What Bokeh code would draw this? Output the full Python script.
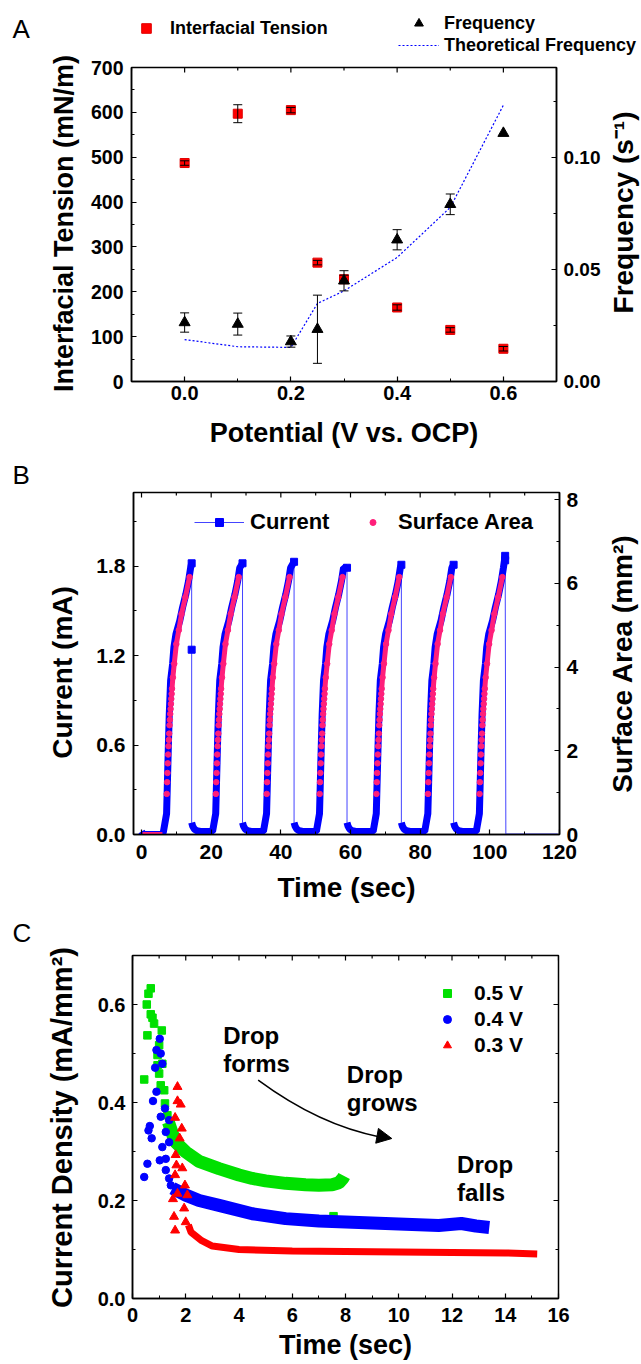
import math
from bokeh.plotting import figure
from bokeh.models import (Range1d, LinearAxis, SingleIntervalTicker, NumeralTickFormatter,
                          Legend, LegendItem, Label, Whisker, TeeHead, ColumnDataSource,
                          Arrow, NormalHead)
from bokeh.layouts import column, row
from bokeh.embed import file_html
from bokeh.resources import INLINE

FONT = "Liberation Sans"

# ---------------- Panel A data ----------------
potential = [0.0, 0.1, 0.2, 0.25, 0.3, 0.4, 0.5, 0.6]
tension = [487, 597, 605, 265, 228, 165, 115, 73]
tension_err = [5, 20, 6, 5, 9, 6, 5, 5]
frequency = [0.0263, 0.0256, 0.0178, 0.0233, 0.0449, 0.0632, 0.0790, 0.1107]
frequency_err = [0.0043, 0.0049, 0.0025, 0.0152, 0.0045, 0.0045, 0.0046, 0.0]
theory_frequency = [0.0187, 0.0155, 0.0152, 0.0348, 0.0404, 0.0553, 0.0776, 0.1232]

# ---------------- Panel B data ----------------
rise_times = [7.2, 21.3, 35.9, 51.1, 67.4, 82.2, 97.0]
fall_times = [14.4, 29.0, 43.8, 59.0, 74.6, 89.6, 104.4]
peak_current = [1.82, 1.82, 1.83, 1.79, 1.81, 1.81, 1.87]
rise_dt = [-0.9, 0.0, 0.5, 0.77, 1.16, 1.73, 2.1, 2.7, 3.8, 4.6, 5.55, 6.3, 6.9]
rise_current = [0.02, 0.14, 0.586, 0.81, 1.034, 1.145, 1.257, 1.346, 1.436, 1.525, 1.615, 1.70, 1.79]
decay_dt = [0.0, 0.3, 0.8, 1.5, 2.5, 4.0]
decay_current = [0.08, 0.055, 0.035, 0.025, 0.02, 0.02]
start_time = [0.0, 0.5, 6.0]
start_current = [0.02, 0.0, 0.0]
tail_time = [104.6, 119.5]
tail_current = [0.003, 0.003]
extra_time = [14.4, 104.4]
extra_current = [1.24, 1.84]
idle_area_time = [0.3, 6.0]
idle_area = [0.0, 0.0]
area_dt = [0.05, 0.15, 0.25, 0.35, 0.45, 0.55, 0.65, 0.75, 0.85, 0.95, 1.05, 1.15,
           1.25, 1.35, 1.45, 1.55, 1.8, 2.2, 2.8, 3.5, 4.3, 5.4, 6.6]
area_value = [0.97, 1.25, 1.47, 1.70, 1.91, 2.11, 2.26, 2.41, 2.61, 2.74, 2.88, 3.0,
              3.12, 3.24, 3.36, 3.48, 3.75, 4.08, 4.55, 4.88, 5.27, 5.67, 6.15]

# ---------------- Panel C data ----------------
v05_scatter_t = [0.44, 0.536, 0.56, 0.6, 0.686, 0.686, 0.75, 0.81, 0.94, 0.94, 1.0, 1.0,
                 1.06, 1.1, 1.12, 1.19, 1.22, 1.31, 7.55]
v05_scatter_j = [0.447, 0.600, 0.537, 0.622, 0.633, 0.580, 0.573, 0.561, 0.497, 0.476, 0.517,
                 0.459, 0.435, 0.547, 0.479, 0.425, 0.398, 0.374, 0.168]
v05_band_t = [1.35, 1.6, 2.0, 2.5, 3.25, 4.0, 4.5, 5.0, 5.75, 6.5, 7.0, 7.5, 7.75, 7.9, 7.95]
v05_band_j = [0.36, 0.32, 0.299, 0.28, 0.265, 0.252, 0.245, 0.24, 0.235, 0.232, 0.231, 0.232,
              0.236, 0.245, 0.25]
v04_scatter_t = [0.44, 0.56, 0.6, 0.65, 0.72, 0.77, 0.85, 0.9, 0.9, 1.024, 1.024, 1.06, 1.06,
                 1.12, 1.12, 1.22, 1.25, 1.25, 1.25, 1.375, 1.375, 1.375, 1.44]
v04_scatter_j = [0.248, 0.275, 0.343, 0.352, 0.327, 0.403, 0.471, 0.507, 0.422, 0.530, 0.282,
                 0.500, 0.371, 0.479, 0.309, 0.388, 0.340, 0.285, 0.262, 0.364, 0.319, 0.245, 0.231]
v04_band_t = [1.5, 2.0, 2.5, 3.25, 4.5, 5.75, 7.0, 8.5, 10.0, 11.5, 12.35, 12.9, 13.4]
v04_band_j = [0.225, 0.211, 0.200, 0.190, 0.173, 0.163, 0.158, 0.155, 0.152, 0.149, 0.153,
              0.148, 0.145]
v03_scatter_t = [1.52, 1.56, 1.6, 1.6, 1.6, 1.62, 1.65, 1.69, 1.69, 1.69, 1.77, 1.81, 1.85,
                 1.87, 1.94, 1.97, 2.0, 2.06]
v03_scatter_j = [0.203, 0.167, 0.139, 0.369, 0.252, 0.293, 0.272, 0.432, 0.403, 0.214, 0.327,
                 0.396, 0.347, 0.266, 0.184, 0.231, 0.156, 0.211]
v03_band_t = [2.1, 2.2, 2.6, 3.0, 4.0, 6.0, 8.0, 10.0, 12.0, 14.0, 15.2]
v03_band_j = [0.15, 0.135, 0.118, 0.107, 0.100, 0.097, 0.096, 0.095, 0.094, 0.093, 0.091]

BLUE = "#0000FF"
PINK = "#FF1F7A"
GREEN = "#00E000"
RED = "#FF0000"


# ---------------- helpers ----------------
def no_align(p):
    try:
        p.frame_align = False
    except Exception:
        pass


def make_fig(width, height, xr, yr, borders):
    l, r, t, b = borders
    p = figure(width=width, height=height, x_range=Range1d(*xr), y_range=Range1d(*yr),
               output_backend="svg", toolbar_location=None,
               min_border_left=l, min_border_right=r, min_border_top=t, min_border_bottom=b)
    no_align(p)
    p.xgrid.visible = False
    p.ygrid.visible = False
    p.outline_line_color = "black"
    p.outline_line_width = 1.5
    p.background_fill_color = "white"
    p.border_fill_color = "white"
    return p


def make_canvas(w, h):
    c = figure(width=w, height=h, x_range=Range1d(0, w), y_range=Range1d(0, h),
               x_axis_type=None, y_axis_type=None, output_backend="svg",
               toolbar_location=None, min_border_left=0, min_border_right=0,
               min_border_top=0, min_border_bottom=0)
    no_align(c)
    c.outline_line_color = None
    c.background_fill_color = "white"
    c.border_fill_color = "white"
    return c


def canvas_text(c, origin, px, py, text, size, bold=True, angle=0.0, align="center"):
    # origin = page position of the canvas' top-left corner
    x0, y0 = origin
    c.add_layout(Label(x=px - x0, y=(y0 + c.height) - py, text=text, angle=angle,
                       text_font=FONT, text_font_size=f"{size}px",
                       text_font_style="bold" if bold else "normal",
                       text_align=align, text_baseline="middle", text_color="black"))


def style_axis(ax, interval, fmt, size=20, standoff=6, label=None, label_size=27,
               label_standoff=8):
    ax.ticker = SingleIntervalTicker(interval=interval, num_minor_ticks=2)
    ax.formatter = NumeralTickFormatter(format=fmt)
    ax.major_tick_in = 5
    ax.major_tick_out = 0
    ax.minor_tick_in = 3
    ax.minor_tick_out = 0
    ax.axis_line_color = "black"
    ax.axis_line_width = 1.5
    ax.major_tick_line_color = "black"
    ax.minor_tick_line_color = "black"
    ax.major_tick_line_width = 1.2
    ax.minor_tick_line_width = 1.0
    ax.major_label_text_font = FONT
    ax.major_label_text_font_style = "bold"
    ax.major_label_text_color = "black"
    ax.major_label_text_font_size = f"{size}px"
    ax.major_label_standoff = standoff
    if label:
        ax.axis_label = label
        ax.axis_label_text_font = FONT
        ax.axis_label_text_font_style = "bold"
        ax.axis_label_text_font_size = f"{label_size}px"
        ax.axis_label_text_color = "black"
        ax.axis_label_standoff = label_standoff


def mirror_ticks(p, side, interval, frame_w, frame_h):
    x0, x1 = p.x_range.start, p.x_range.end
    y0, y1 = p.y_range.start, p.y_range.end
    half = interval / 2.0
    lo, hi = (x0, x1) if side == "top" else (y0, y1)
    k0 = int(math.ceil(lo / half - 1e-9))
    k1 = int(math.floor(hi / half + 1e-9))
    xs0, ys0, xs1, ys1 = [], [], [], []
    for k in range(k0, k1 + 1):
        v = k * half
        ln = 5.0 if k % 2 == 0 else 3.0
        if side == "top":
            xs0.append(v); xs1.append(v)
            ys0.append(y1); ys1.append(y1 - ln * (y1 - y0) / frame_h)
        else:
            ys0.append(v); ys1.append(v)
            xs0.append(x1); xs1.append(x1 - ln * (x1 - x0) / frame_w)
    p.segment(xs0, ys0, xs1, ys1, line_color="black", line_width=1.2)


def make_legend(items, loc, **kw):
    opts = dict(location=loc, orientation="vertical", padding=0, margin=0, spacing=0,
                glyph_width=20, glyph_height=20, label_height=20, label_standoff=6,
                label_text_font=FONT, label_text_font_style="bold",
                label_text_font_size="18px", label_text_color="black",
                background_fill_alpha=0, border_line_alpha=0)
    opts.update(kw)
    return Legend(items=items, **opts)


# ================= Panel A  (page y 0..455) =================
A_X = (-0.1, 0.7)
A_Y = (0, 700)
A_F = (0, 0.14)
pa = make_fig(517, 400, A_X, A_Y, (45, 47, 12, 74))       # page x 86..603, y 55..455
pa.extra_y_ranges = {"freq": Range1d(*A_F)}
style_axis(pa.xaxis[0], 0.2, "0.0", size=20, standoff=4,
           label="Potential (V vs. OCP)", label_size=27, label_standoff=15)
style_axis(pa.yaxis[0], 100, "0", size=19.5, standoff=8)
ax_f = LinearAxis(y_range_name="freq")
style_axis(ax_f, 0.05, "0.00", size=19, standoff=7)
pa.add_layout(ax_f, "right")
mirror_ticks(pa, "top", 0.2, 425, 314)

r_theory = pa.line(potential, theory_frequency, y_range_name="freq", line_color=BLUE,
                   line_width=1.2, line_dash="2 2")
r_tension = pa.scatter(potential, tension, marker="square", size=9,
                       fill_color=RED, line_color="#E00000")
r_freq = pa.scatter(potential, frequency, marker="triangle", size=11, y_range_name="freq",
                    fill_color="black", line_color="black")

src_ten = ColumnDataSource(dict(x=potential,
                                upper=[v + e for v, e in zip(tension, tension_err)],
                                lower=[v - e for v, e in zip(tension, tension_err)]))
pa.add_layout(Whisker(source=src_ten, base="x", upper="upper", lower="lower",
                      line_color="black", line_width=1, level="overlay",
                      upper_head=TeeHead(size=9, line_color="black", line_width=1),
                      lower_head=TeeHead(size=9, line_color="black", line_width=1)))
fp = [(x, v, e) for x, v, e in zip(potential, frequency, frequency_err) if e > 0]
src_fr = ColumnDataSource(dict(x=[a[0] for a in fp],
                               upper=[a[1] + a[2] for a in fp],
                               lower=[a[1] - a[2] for a in fp]))
pa.add_layout(Whisker(source=src_fr, base="x", upper="upper", lower="lower",
                      y_range_name="freq", line_color="black", line_width=1, level="overlay",
                      upper_head=TeeHead(size=9, line_color="black", line_width=1),
                      lower_head=TeeHead(size=9, line_color="black", line_width=1)))

# header with the legend (page x 86..641, y 0..55)
ha = make_canvas(555, 55)
d_ten = ha.scatter([-1000], [-1000], marker="square", size=9, fill_color=RED,
                   line_color="#E00000")
d_freq = ha.scatter([-1000], [-1000], marker="triangle", size=11, fill_color="black",
                    line_color="black")
d_theo = ha.line([-1000, -999], [-1000, -1000], line_color=BLUE, line_width=1.2,
                 line_dash="2 2")
ha.add_layout(make_legend([LegendItem(label="Interfacial Tension", renderers=[d_ten])],
                          (48, 15), glyph_width=24, glyph_height=24, label_height=24,
                          label_standoff=12, label_text_font_size="18px"))
ha.add_layout(make_legend([LegendItem(label="Frequency", renderers=[d_freq]),
                           LegendItem(label="Theoretical Frequency", renderers=[d_theo])],
                          (312, -1), glyph_width=41, glyph_height=22, label_height=22,
                          label_standoff=5, label_text_font_size="18px"))

la = make_canvas(86, 455)                                   # page x 0..86, y 0..455
canvas_text(la, (0, 0), 12, 28, "A", 26, bold=False, align="left")
canvas_text(la, (0, 0), 63, 223, "Interfacial Tension (mN/m)", 27, angle=math.pi / 2)
ra = make_canvas(38, 400)                                   # page x 603..641, y 55..455
canvas_text(ra, (603, 55), 623, 212, "Frequency (s\u207b\u00b9)", 28, angle=math.pi / 2)

# ================= Panel B  (page y 455..908) =================
B_X = (-2.3, 120)
B_Y = (0, 2.295)
B_A = (0, 8.17)
pb = make_fig(515, 453, B_X, B_Y, (45, 44, 37, 74))       # page x 88..603
pb.extra_y_ranges = {"area": Range1d(*B_A)}
style_axis(pb.xaxis[0], 20, "0", size=21, standoff=10,
           label="Time (sec)", label_size=28, label_standoff=10)
style_axis(pb.yaxis[0], 0.6, "0.0", size=21, standoff=8)
ax_a = LinearAxis(y_range_name="area")
style_axis(ax_a, 2, "0", size=21, standoff=7)
pb.add_layout(ax_a, "right")
mirror_ticks(pb, "top", 20, 426, 342)

seg_t, seg_v = [], []
for k in range(len(fall_times)):
    if k == 0:
        ts, vs = list(start_time), list(start_current)
    else:
        ts = [fall_times[k - 1] + d for d in decay_dt]
        vs = list(decay_current)
    ts += [rise_times[k] + d for d in rise_dt]
    vs += list(rise_current)
    ts.append(fall_times[k])
    vs.append(peak_current[k])
    seg_t.append(ts)
    seg_v.append(vs)
thin_t = [t for s in seg_t for t in s] + tail_time
thin_v = [v for s in seg_v for v in s] + tail_current

r_thin = pb.line(thin_t, thin_v, line_color="#4444FF", line_width=1)
pb.multi_line(seg_t, seg_v, line_color=BLUE, line_width=7)
r_peaks = pb.scatter(fall_times + extra_time, peak_current + extra_current, marker="square",
                     size=7, fill_color=BLUE, line_color=BLUE)

pink_t, pink_v, pink_lines_t, pink_lines_v = [], [], [], []
for tr in rise_times:
    at = [tr + d for d in area_dt]
    pink_t += at
    pink_v += area_value
    pink_lines_t.append(at[15:])
    pink_lines_v.append(area_value[15:])
pink_lines_t.append(idle_area_time)
pink_lines_v.append(idle_area)
pb.multi_line(pink_lines_t, pink_lines_v, y_range_name="area", line_color=PINK, line_width=5)
r_area = pb.scatter(pink_t, pink_v, y_range_name="area", marker="circle", size=5.5,
                    fill_color=PINK, line_color=PINK)

pb.add_layout(make_legend([LegendItem(label="Current", renderers=[r_thin, r_peaks])],
                          (61, 299), glyph_width=50, glyph_height=20, label_height=20,
                          label_standoff=6, label_text_font_size="22px"))
pb.add_layout(make_legend([LegendItem(label="Surface Area", renderers=[r_area])],
                          (232, 299), glyph_width=15, glyph_height=20, label_height=20,
                          label_standoff=18, label_text_font_size="22px"))

lb = make_canvas(88, 453)                                   # page x 0..88
canvas_text(lb, (0, 455), 12, 474, "B", 26, bold=False, align="left")
canvas_text(lb, (0, 455), 62, 672, "Current (mA)", 28, angle=math.pi / 2)
rb = make_canvas(38, 453)                                   # page x 603..641
canvas_text(rb, (603, 455), 622, 663, "Surface Area (mm\u00b2)", 28, angle=math.pi / 2)

# ================= Panel C  (page y 908..1363) =================
C_X = (0, 16)
C_Y = (0, 0.70)
pc = make_fig(553, 455, C_X, C_Y, (44, 83, 47, 65))       # page x 88..641
style_axis(pc.xaxis[0], 2, "0", size=20, standoff=9,
           label="Time (sec)", label_size=27, label_standoff=5)
style_axis(pc.yaxis[0], 0.2, "0.0", size=20, standoff=7)
mirror_ticks(pc, "top", 2, 426, 343)
mirror_ticks(pc, "right", 0.2, 426, 343)

pc.line(v05_band_t, v05_band_j, line_color=GREEN, line_width=13)
r_g = pc.scatter(v05_scatter_t, v05_scatter_j, marker="square", size=7.5,
                 fill_color=GREEN, line_color=GREEN)
pc.line(v04_band_t, v04_band_j, line_color=BLUE, line_width=13)
r_b = pc.scatter(v04_scatter_t, v04_scatter_j, marker="circle", size=7.5,
                 fill_color=BLUE, line_color=BLUE)
pc.line(v03_band_t, v03_band_j, line_color=RED, line_width=7)
r_r = pc.scatter(v03_scatter_t, v03_scatter_j, marker="triangle", size=9,
                 fill_color=RED, line_color=RED)

pc.add_layout(make_legend([LegendItem(label="0.5 V", renderers=[r_g]),
                           LegendItem(label="0.4 V", renderers=[r_b]),
                           LegendItem(label="0.3 V", renderers=[r_r])],
                          (305, 241), glyph_width=20, glyph_height=20, label_height=20,
                          spacing=2, label_standoff=17, label_text_font_size="21px"))

for txt, tx, ty in [("Drop", 3.41, 0.537), ("forms", 3.41, 0.4796),
                    ("Drop", 8.05, 0.4577), ("grows", 8.05, 0.401),
                    ("Drop", 12.19, 0.2734), ("falls", 12.19, 0.2156)]:
    pc.add_layout(Label(x=tx, y=ty, text=txt, text_font=FONT, text_font_size="24px",
                        text_font_style="bold", text_align="left",
                        text_baseline="alphabetic", text_color="black"))

arrow_start = (4.72, 0.4455)
arrow_ctrl = (7.015, 0.3536)
arrow_end = (9.29, 0.3298)
arrow_tip = (9.74, 0.3265)
pc.quadratic(x0=[arrow_start[0]], y0=[arrow_start[1]], x1=[arrow_end[0]], y1=[arrow_end[1]],
             cx=[arrow_ctrl[0]], cy=[arrow_ctrl[1]], line_color="black", line_width=1.5)
pc.add_layout(Arrow(end=NormalHead(size=15, fill_color="black", line_color="black"),
                    x_start=arrow_ctrl[0], y_start=arrow_ctrl[1],
                    x_end=arrow_tip[0], y_end=arrow_tip[1], line_alpha=0))

lc = make_canvas(88, 455)                                   # page x 0..88
canvas_text(lc, (0, 908), 12, 932, "C", 26, bold=False, align="left")
canvas_text(lc, (0, 908), 61, 1127, "Current Density (mA/mm\u00b2)", 29, angle=math.pi / 2)

layout = column(
    row(la, column(ha, row(pa, ra))),
    row(lb, pb, rb),
    row(lc, pc),
)
open("out.html", "w").write(file_html(layout, INLINE))
